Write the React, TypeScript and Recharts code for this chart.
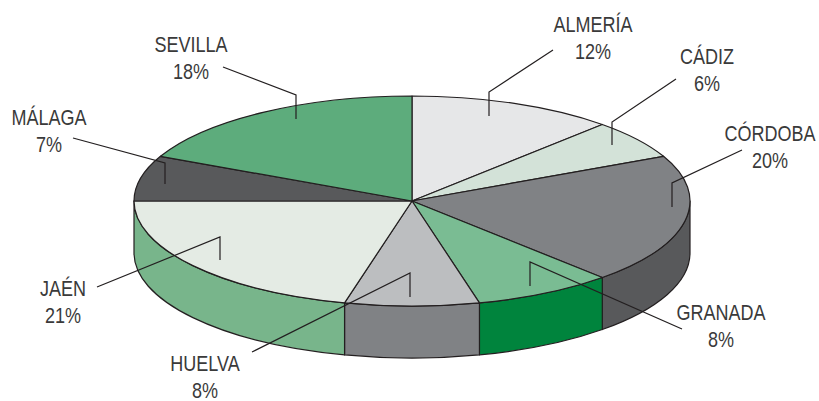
import { Pie, PieChart } from "recharts"

// provincias, en sentido horario desde arriba
const provinces = ["ALMERÍA", "CÁDIZ", "CÓRDOBA", "GRANADA", "HUELVA", "JAÉN", "MÁLAGA", "SEVILLA"]
const shares = [12, 6, 20, 8.1, 7.8, 21.1, 7, 18]
const topColors = ["#E6E7E8", "#D3E2D8", "#808285", "#7ABC93", "#BCBEC0", "#E4EBE4", "#58595B", "#5DAC7C"]
const sideColors = ["#E6E7E8", "#D3E2D8", "#58595B", "#00843D", "#808285", "#78B58B", "#58595B", "#5DAC7C"]

const tableData = provinces.map((name, i) => ({
  name,
  value: shares[i],
  fill: topColors[i],
  side: sideColors[i],
}))

const WIDTH = 819
const HEIGHT = 401
const CX = 412
const CY = 201
const RX = 278
const RY = 105
const DEPTH = 52
const LINE = "#231F20"

// posición de rótulos y guías: [x texto, base 1ª línea, puntos de la guía]
const labelLayout: { x: number; y: number; leader: string }[] = [
  { x: 593, y: 32, leader: "489,116 489,92 553,50" },
  { x: 707, y: 64, leader: "612,145 612,122 676,79" },
  { x: 770, y: 141, leader: "672,207 672,183 742,150" },
  { x: 721, y: 320, leader: "530,286 530,262 682,329" },
  { x: 205, y: 371, leader: "410,297 410,273 252,352" },
  { x: 63, y: 296, leader: "220,260 220,237 97,287" },
  { x: 49, y: 125, leader: "165,184 165,163 73,138" },
  { x: 191, y: 52, leader: "296,119 296,95 223,67" },
]

const px = (cx: number, a: number) => cx + (RX * Math.cos((a * Math.PI) / 180))
const py = (cy: number, a: number) => cy - (RY * Math.sin((a * Math.PI) / 180))

// el Pie da los ángulos; aquí se aplastan a elipse y se añade el canto
const EllipseSlice = (props: any) => {
  const { cx, cy, startAngle, endAngle, fill, payload } = props
  const large = Math.abs(startAngle - endAngle) > 180 ? 1 : 0
  const top =
    `M${cx},${cy} L${px(cx, startAngle)},${py(cy, startAngle)} ` +
    `A${RX},${RY} 0 ${large} 1 ${px(cx, endAngle)},${py(cy, endAngle)} Z`

  const hi = Math.min(startAngle, 0)
  const lo = Math.max(endAngle, -180)
  const side =
    hi > lo
      ? `M${px(cx, hi)},${py(cy, hi)} A${RX},${RY} 0 0 1 ${px(cx, lo)},${py(cy, lo)} ` +
        `L${px(cx, lo)},${py(cy, lo) + DEPTH} ` +
        `A${RX},${RY} 0 0 0 ${px(cx, hi)},${py(cy, hi) + DEPTH} Z`
      : null

  return (
    <g>
      {side && <path d={side} fill={payload?.side ?? props.side} stroke={LINE} strokeWidth={1.2} strokeLinejoin="round" />}
      <path d={top} fill={fill} stroke={LINE} strokeWidth={1.2} strokeLinejoin="round" />
    </g>
  )
}

const LeaderLabel = (props: any) => {
  const { index, name, value } = props
  const pos = labelLayout[index]
  return (
    <g>
      <polyline points={pos.leader} fill="none" stroke={LINE} strokeWidth={1.2} />
      {/* sin fuente estrecha instalada: Liberation Sans comprimida en x */}
      <text
        transform={`translate(${pos.x},${pos.y}) scale(0.82,1)`}
        textAnchor="middle"
        fill="#3A3A3A"
        fontFamily="'Liberation Sans', sans-serif"
        fontSize={22}
      >
        <tspan x={0}>{name}</tspan>
        <tspan x={0} dy={27}>{Math.round(value)}%</tspan>
      </text>
    </g>
  )
}

export default function App() {
  return (
    <div style={{ position: "absolute", left: 0, top: 0, width: WIDTH, height: HEIGHT, background: "#fff" }}>
      <PieChart width={WIDTH} height={HEIGHT} margin={{ top: 0, right: 0, bottom: 0, left: 0 }}>
        <Pie
          data={tableData}
          dataKey="value"
          nameKey="name"
          cx={CX}
          cy={CY}
          innerRadius={0}
          outerRadius={RX}
          startAngle={90}
          endAngle={-270}
          paddingAngle={0}
          shape={EllipseSlice}
          label={LeaderLabel}
          labelLine={false}
          isAnimationActive={false}
        />
      </PieChart>
    </div>
  )
}
